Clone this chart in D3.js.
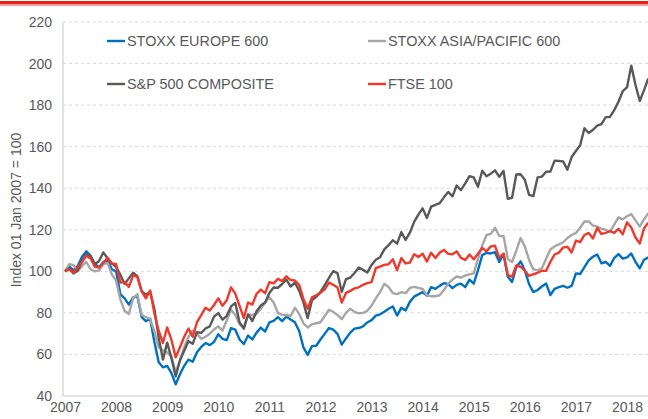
<!DOCTYPE html>
<html>
<head>
<meta charset="utf-8">
<script src="https://cdn.jsdelivr.net/npm/d3@7"></script>
<style>
  body { margin: 0; background: #fff; }
  text { font-family: "Liberation Sans", Arial, sans-serif; }
</style>
</head>
<body>
<div id="chart"></div>
<script>
// monthly index values, 01 Jan 2007 = 100 (one value per month, Jan 2007 .. Jun 2018)
const years = ["2007", "2008", "2009", "2010", "2011", "2012", "2013", "2014", "2015", "2016", "2017", "2018"];
const yTicks = [40, 60, 80, 100, 120, 140, 160, 180, 200, 220];
const seriesNames = ["STOXX EUROPE 600", "STOXX ASIA/PACIFIC 600", "S&P 500 COMPOSITE", "FTSE 100"];

const stoxxEurope = [
  100, 102.4, 100.5, 102.6, 107.0, 109.6, 107.5, 103.6, 102.0, 104.5, 105.4, 101.0,
  100.0, 89.0, 87.0, 84.0, 87.5, 88.0, 78.0, 76.0, 77.2, 66.0, 56.2, 53.8,
  54.5, 51.0, 45.6, 50.5, 54.5, 57.5, 56.5, 61.0, 63.6, 65.5, 64.5, 66.0,
  69.7, 67.5, 66.9, 72.7, 71.9, 67.2, 65.0, 69.1, 67.2, 70.5, 72.9, 71.0,
  75.4, 76.2, 78.0, 76.0, 78.2, 76.8, 75.5, 71.3, 63.4, 59.8, 64.0, 64.2,
  67.2, 69.9, 72.7, 71.9, 69.9, 64.7, 67.7, 70.5, 72.4, 72.7, 73.5, 75.4,
  76.5, 78.7, 79.3, 80.6, 82.0, 83.1, 78.7, 82.5, 81.2, 85.3, 87.8, 88.9,
  90.0, 88.3, 92.4, 91.6, 93.0, 94.3, 93.8, 91.9, 93.5, 94.1, 92.4, 96.0,
  94.1, 100.6, 107.8, 108.9, 108.6, 109.2, 104.5, 108.3, 97.4, 94.9, 102.0, 104.8,
  100.4, 93.8, 90.0, 91.0, 92.7, 94.1, 88.6, 91.6, 92.4, 93.0, 92.1, 93.0,
  99.0, 98.7, 102.0, 105.3, 107.0, 108.1, 103.9, 104.5, 102.6, 106.4, 108.3, 106.1,
  106.7, 108.6, 104.5, 101.5, 105.6, 106.7
];

const stoxxAsia = [
  100, 103.5, 103.0, 100.0, 102.5, 104.5, 101.0, 100.0, 100.5, 103.5, 104.0, 98.5,
  95.5, 86.5, 81.0, 79.5, 87.0, 89.0, 79.0, 78.0, 77.0, 71.0, 63.5, 62.0,
  61.0, 59.0, 51.5, 57.0, 63.5, 68.5, 71.5, 70.0, 67.5, 68.5, 70.0, 72.0,
  73.5, 71.5, 76.5, 81.5, 79.0, 74.5, 73.0, 79.0, 79.0, 79.5, 82.0, 85.0,
  87.5, 85.0, 80.0, 79.0, 79.0, 78.5, 82.5, 79.5, 75.0, 73.0, 74.5, 75.0,
  75.5, 78.5, 81.5, 80.5, 79.0, 77.0, 80.0, 82.0, 80.5, 79.8, 80.0, 81.0,
  83.5, 87.0, 90.0, 94.0, 92.5, 89.5, 89.0, 90.0, 89.5, 92.0, 92.5, 92.0,
  91.5, 88.5, 88.0, 88.0, 88.5, 91.0, 94.0, 96.0, 97.5, 97.0, 98.0, 98.5,
  99.0, 106.0, 112.5, 117.5, 118.0, 121.0, 117.0, 117.0, 106.0, 104.5, 110.0, 116.0,
  112.0, 105.5, 101.0, 100.5, 101.5, 106.0, 110.5, 112.0, 113.0, 114.0, 116.0, 117.5,
  118.5, 121.0, 124.0, 124.0, 122.0, 121.5, 120.5, 120.0, 119.0, 122.5, 126.0, 125.0,
  126.5, 127.5, 124.5, 121.5, 125.0, 128.0
];

const sp500 = [
  100, 101.4, 99.0, 100.4, 104.8, 108.3, 107.1, 103.4, 105.0, 109.1, 106.3, 103.8,
  102.0, 98.4, 93.9, 96.6, 99.3, 97.7, 90.5, 88.8, 90.0, 81.9, 68.1, 57.5,
  65.7, 58.2, 49.4, 57.2, 61.8, 66.4, 65.1, 70.7, 70.4, 72.5, 73.5, 78.2,
  79.9, 76.8, 78.6, 83.1, 84.8, 75.4, 72.4, 79.3, 76.1, 80.8, 83.6, 85.0,
  89.6, 92.2, 92.1, 93.9, 96.0, 92.7, 94.5, 90.7, 85.0, 77.5, 86.0, 87.7,
  90.0, 93.4, 96.9, 100.1, 99.1, 90.1, 96.2, 97.0, 99.2, 101.8, 100.7, 99.4,
  103.1, 105.6, 106.8, 110.6, 112.6, 115.0, 113.3, 118.9, 115.1, 118.6, 123.8, 127.3,
  130.3, 125.7, 131.1, 132.0, 132.8, 135.6, 138.2, 136.1, 141.3, 139.1, 142.3, 145.8,
  145.2, 140.7, 148.4, 145.8, 147.0, 148.6, 145.5, 148.3, 134.9, 135.4, 146.6, 146.7,
  144.1, 136.8, 136.2, 145.2, 145.6, 147.9, 148.0, 153.3, 153.1, 152.9, 148.9, 155.0,
  157.9, 160.7, 168.9, 166.6, 168.1, 170.1, 170.9, 174.2, 174.3, 177.6, 181.6, 186.7,
  188.5, 199.0, 189.7, 182.0, 187.2, 192.8
];

const ftse100 = [
  100, 101.0, 99.3, 102.0, 104.5, 107.5, 106.2, 102.2, 101.8, 104.0, 106.5, 103.8,
  103.6, 94.6, 94.8, 92.5, 98.0, 97.3, 90.4, 87.0, 90.8, 79.7, 71.4, 65.5,
  73.0, 67.0, 58.6, 63.5, 68.5, 72.5, 68.5, 75.5, 78.9, 82.5, 81.1, 83.8,
  87.0, 83.4, 86.1, 92.3, 89.3, 83.4, 77.5, 85.0, 84.0, 89.2, 91.2, 89.5,
  94.8, 94.2, 96.4, 95.3, 97.6, 95.8, 95.6, 93.5, 86.7, 82.0, 87.5, 88.5,
  89.6, 91.3, 94.6, 93.5, 92.2, 85.0, 89.6, 90.6, 91.8, 92.3, 93.5, 94.3,
  94.8, 101.5, 102.3, 103.1, 103.4, 105.8, 100.5, 106.4, 103.8, 104.2, 108.2, 106.9,
  108.5, 104.7, 109.0, 106.4, 109.0, 110.3, 108.4, 108.2, 109.6, 106.5, 105.5, 108.1,
  105.8, 108.5, 111.3, 109.6, 112.0, 112.3, 106.5, 108.5, 98.2, 97.4, 102.8, 102.2,
  100.3, 97.8, 98.6, 99.3, 100.3, 100.2, 104.6, 108.1, 109.0, 111.5, 111.8, 109.1,
  114.8, 114.1, 117.5, 118.5, 115.8, 120.9, 118.0, 118.5, 119.4, 118.5, 120.5, 117.8,
  123.6, 121.1, 116.3, 113.4, 120.7, 123.4
];

const seriesValues = [stoxxEurope, stoxxAsia, sp500, ftse100];
const seriesColors = ["#0070c0", "#a6a6a6", "#595959", "#ee3a2c"];

var chart_width = 648;
var chart_height = 419;
var plot_left = 63;
var plot_top = 22;
var plot_bottom = 396;

let svg = d3.select('#chart')
    .append('svg')
    .attr('width', chart_width)
    .attr('height', chart_height);

svg.append('rect')
    .attr('width', chart_width)
    .attr('height', chart_height)
    .attr('fill', '#fff');

// red rule across the top
svg.append('rect')
    .attr('x', 0).attr('y', 1)
    .attr('width', chart_width).attr('height', 3.5)
    .attr('fill', '#e3231b');
svg.append('rect')
    .attr('x', 0).attr('y', 4.5)
    .attr('width', chart_width).attr('height', 1.5)
    .attr('fill', '#f5a49e');

// x: month index, Jan 2007 = 0, Jan 2018 = 132
let x = d3.scaleLinear()
    .domain([0, 132])
    .range([65, 627]);

let y = d3.scaleLinear()
    .domain([40, 220])
    .range([plot_bottom, plot_top]);

// gridlines
svg.append('g')
    .selectAll('line')
    .data(yTicks.slice(1))
    .enter()
    .append('line')
    .attr('x1', plot_left)
    .attr('x2', chart_width)
    .attr('y1', d => y(d))
    .attr('y2', d => y(d))
    .attr('stroke', '#d9d9d9')
    .attr('stroke-width', 1)
    .attr('stroke-dasharray', '3,3');

// axis lines
svg.append('line')
    .attr('x1', plot_left).attr('x2', plot_left)
    .attr('y1', plot_top).attr('y2', plot_bottom)
    .attr('stroke', '#d9d9d9')
    .attr('stroke-width', 1.5);
svg.append('line')
    .attr('x1', plot_left).attr('x2', chart_width)
    .attr('y1', plot_bottom).attr('y2', plot_bottom)
    .attr('stroke', '#d9d9d9')
    .attr('stroke-width', 1.5);

// y axis labels
let yAxis = svg.append('g')
    .attr('transform', 'translate(52,0)')
    .call(d3.axisLeft(y).tickValues(yTicks).tickSize(0).tickPadding(0));
yAxis.select('.domain').remove();
yAxis.selectAll('text')
    .attr('fill', '#595959')
    .attr('font-size', 14)
    .attr('font-family', '"Liberation Sans", Arial, sans-serif');

// x axis labels (years at each January)
let xAxis = svg.append('g')
    .attr('transform', 'translate(0,' + (plot_bottom + 6) + ')')
    .call(d3.axisBottom(x)
        .tickValues(years.map((d, i) => i * 12))
        .tickFormat((d, i) => years[i])
        .tickSize(0)
        .tickPadding(0));
xAxis.select('.domain').remove();
xAxis.selectAll('text')
    .attr('fill', '#595959')
    .attr('font-size', 14)
    .attr('font-family', '"Liberation Sans", Arial, sans-serif');

// y axis title
svg.append('text')
    .text('Index 01 Jan 2007 = 100')
    .attr('transform', 'translate(21,' + 210 + ') rotate(-90)')
    .attr('text-anchor', 'middle')
    .attr('fill', '#595959')
    .attr('font-size', 14);

// lines
let line = d3.line()
    .x((d, i) => x(i))
    .y(d => y(d));

svg.append('g')
    .selectAll('path')
    .data(seriesValues)
    .enter()
    .append('path')
    .attr('d', d => line(d))
    .attr('fill', 'none')
    .attr('stroke', (d, i) => seriesColors[i])
    .attr('stroke-width', 2.4)
    .attr('stroke-linejoin', 'round');

// legend
let legendPos = [[107, 41], [368, 41], [107, 84], [368, 84]];
let legend = svg.append('g')
    .selectAll('g')
    .data(seriesNames)
    .enter()
    .append('g')
    .attr('transform', (d, i) => 'translate(' + legendPos[i][0] + ',' + legendPos[i][1] + ')');

legend.append('line')
    .attr('x1', 0).attr('x2', 18)
    .attr('y1', 0).attr('y2', 0)
    .attr('stroke', (d, i) => seriesColors[i])
    .attr('stroke-width', 2.4);

legend.append('text')
    .text(d => d)
    .attr('x', 20)
    .attr('y', 5)
    .attr('fill', '#595959')
    .attr('font-size', 14.4);
</script>
</body>
</html>
